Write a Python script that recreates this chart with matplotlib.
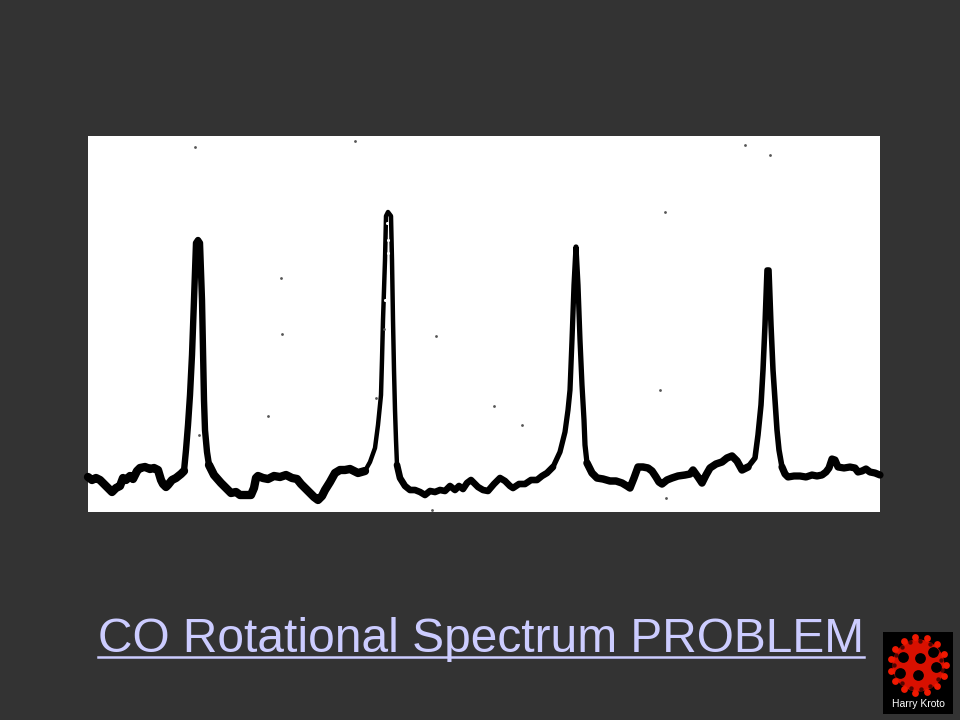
# CO rotational spectrum slide - scanned trace on dark background

import numpy as np
import matplotlib.pyplot as plt

title = "CO Rotational Spectrum PROBLEM"
logo_name = "Harry Kroto"

# trace, one stretch at a time (x, y in image pixels)
base1_x = [88, 92, 96, 100, 103, 108, 112, 116, 120, 123, 126, 130, 133, 137, 140, 145, 150, 154, 158, 161, 163, 166, 168, 172, 176, 181, 184]
base1_y = [477, 480, 478, 480, 483, 488, 492, 488, 486, 478, 480, 476, 479, 471, 468, 467, 469, 468, 470, 480, 484, 487, 485, 480, 478, 474, 471]
peak1_x = [184, 186, 188, 190, 192, 194, 196, 198, 200, 202, 203, 204, 205, 207, 209]
peak1_y = [471, 450, 425, 395, 355, 300, 243, 240, 243, 300, 350, 400, 430, 452, 465]
base2_x = [209, 214, 221, 226, 231, 236, 240, 246, 251, 254, 256, 258, 263, 268, 274, 280, 286, 292, 297, 301, 306, 310, 314, 318, 322, 325, 330, 335, 340, 345, 350, 358, 365]
base2_y = [465, 475, 483, 488, 493, 492, 495, 495, 495, 488, 478, 476, 478, 479, 476, 477, 475, 478, 479, 484, 489, 493, 497, 500, 496, 490, 482, 473, 470, 470, 469, 473, 471]
peak2_x = [365, 370, 375, 378, 381, 382, 383, 385, 386, 388, 391, 392, 393, 394, 395, 396, 397]
peak2_y = [471, 462, 448, 425, 395, 360, 320, 260, 216, 212, 216, 260, 320, 370, 410, 440, 465]
base3_x = [397, 400, 405, 410, 415, 420, 425, 430, 435, 440, 445, 450, 455, 459, 463, 467, 471, 475, 478, 483, 488, 494, 500, 505, 510, 513, 519, 525, 531, 537, 542, 547, 553]
base3_y = [465, 478, 486, 490, 490, 492, 495, 491, 492, 490, 491, 486, 490, 486, 489, 483, 480, 484, 487, 490, 491, 484, 478, 481, 486, 488, 484, 484, 480, 480, 476, 473, 467]
peak3_x = [553, 560, 565, 568, 570, 572, 574, 576, 578, 580, 582, 584, 585, 587]
peak3_y = [467, 452, 432, 410, 390, 340, 285, 247, 285, 340, 385, 420, 445, 463]
base4_x = [587, 592, 597, 603, 610, 616, 622, 627, 630, 634, 638, 643, 648, 652, 656, 659, 662, 667, 672, 678, 685, 690, 693, 698, 702, 706, 710, 716, 722, 727, 732, 737, 742, 748]
base4_y = [463, 473, 478, 479, 481, 481, 483, 486, 488, 478, 467, 467, 468, 471, 477, 482, 484, 480, 478, 476, 475, 474, 470, 477, 483, 475, 468, 464, 462, 458, 456, 461, 470, 467]
peak4_x = [748, 755, 758, 761, 763, 765, 767, 769, 771, 773, 775, 777, 779, 782]
peak4_y = [467, 458, 435, 405, 370, 325, 270, 270, 325, 370, 400, 430, 450, 467]
base5_x = [782, 785, 788, 794, 800, 806, 812, 817, 822, 826, 829, 832, 835, 838, 844, 850, 855, 858, 862, 866, 870, 875, 880]
base5_y = [467, 474, 477, 476, 476, 477, 475, 476, 475, 472, 468, 459, 460, 467, 468, 467, 468, 472, 471, 469, 472, 473, 475]

speck_x = [195, 355, 281, 282, 436, 268, 494, 660, 665, 745, 770, 199, 376, 384, 432, 522, 666]
speck_y = [147, 141, 278, 334, 336, 416, 406, 390, 212, 145, 155, 435, 398, 329, 510, 425, 498]

# gaps in the ink near the top of the second peak
gap_x = [387, 388, 388, 388, 385]
gap_y = [223, 240, 253, 275, 300]

# fullerene logo, positions in image pixels
hole_x = [920, 903, 933, 936, 918, 900]
hole_y = [658, 657, 652, 667, 675, 673]
node_angle = [0, 24, 48, 72, 96, 120, 144, 168, 192, 216, 240, 264, 288, 312, 336]

plt.rcParams['font.family'] = ['Liberation Sans', 'DejaVu Sans']

fig = plt.figure(figsize=(9.6, 7.2), dpi=100, facecolor='#333333')
ax = fig.add_axes([0, 0, 1, 1])
ax.set_xlim(0, 960)
ax.set_ylim(720, 0)
ax.axis('off')

# white scan area
ax.add_patch(plt.Rectangle((88, 136), 792, 376, facecolor='white', edgecolor='none', zorder=1))

stretches = [
    (base1_x, base1_y, 6.0),
    (peak1_x, peak1_y, 4.6),
    (base2_x, base2_y, 6.0),
    (peak2_x, peak2_y, 3.2),
    (base3_x, base3_y, 4.8),
    (peak3_x, peak3_y, 3.8),
    (base4_x, base4_y, 5.4),
    (peak4_x, peak4_y, 4.0),
    (base5_x, base5_y, 5.2),
]
for xs, ys, lw in stretches:
    ax.plot(xs, ys, color='black', lw=lw, solid_joinstyle='round', solid_capstyle='round', zorder=2)

ax.scatter(speck_x, speck_y, s=4, color='#555555', linewidths=0, zorder=2)
ax.scatter(gap_x, gap_y, s=5, color='white', linewidths=0, zorder=3)

# title with its underline
ax.text(481, 640, title, color='#CCCCFF', fontsize=34.5, ha='center', va='center', zorder=3)
ax.plot([98, 864], [657, 657], color='#CCCCFF', lw=1.8, zorder=3)

# logo
ax.add_patch(plt.Rectangle((883, 632), 70, 82, facecolor='black', edgecolor='none', zorder=3))
cx, cy = 918, 665
angles = np.radians(node_angle)
ax.scatter([cx], [cy], s=1400, color='#D81000', linewidths=0, zorder=4)
ax.scatter(cx + 28 * np.cos(angles), cy + 28 * np.sin(angles), s=24, color='#F01800', linewidths=0, zorder=4)
ax.scatter(cx + 24 * np.cos(angles + 0.2), cy + 24 * np.sin(angles + 0.2), s=10, color='#500400', linewidths=0, zorder=5)
ax.scatter(hole_x, hole_y, s=60, color='black', linewidths=0, zorder=5)
ax.text(918, 704, logo_name, color='white', fontsize=7.5, ha='center', va='center', zorder=5)

fig.savefig('out.png', dpi=100, facecolor=fig.get_facecolor())
